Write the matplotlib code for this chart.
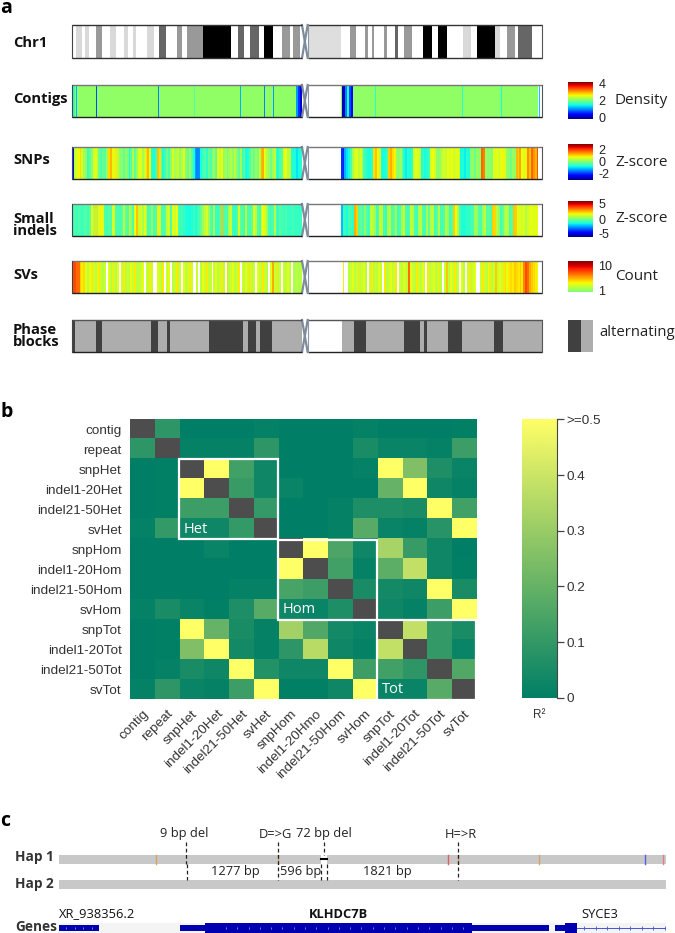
import matplotlib
matplotlib.use('Agg')
import matplotlib.pyplot as plt
from matplotlib.colors import LinearSegmentedColormap
import numpy as np

W, H = 675, 933
nan = np.nan

# chromosome arms in Mb
left_end, right_start, chrom_end = 122.0, 125.0, 249.3
right_bins_from, right_bins_to = 142.5, 247.4

# ideogram bands: start, end, grey
band_start = [2.1, 6.9, 12.6, 20.2, 27.6, 32.5, 39.8, 46.3, 55.7, 60.8, 69.3, 88.1, 94.4, 102.0, 111.4, 117.4,
              125.0, 147.6, 155.2, 159.3, 165.7, 171.3, 176.3, 186.0, 194.1, 207.4, 214.8, 224.4, 230.7, 236.8]
band_end = [5.1, 9.0, 15.7, 23.3, 29.7, 34.1, 43.7, 50.0, 58.4, 69.3, 84.4, 91.4, 99.2, 106.8, 115.6, 121.0,
            142.6, 150.8, 156.8, 160.4, 167.3, 173.1, 180.5, 191.0, 198.9, 211.6, 224.4, 227.0, 234.9, 243.8]
band_grey = ['#d9d9d9', '#d9d9d9', '#999999', '#d9d9d9', '#d9d9d9', '#d9d9d9', '#d9d9d9', '#666666', '#999999',
             '#999999', '#000000', '#666666', '#666666', '#000000', '#999999', '#999999',
             '#dedede', '#999999', '#999999', '#999999', '#999999', '#666666', '#999999', '#000000', '#000000',
             '#d9d9d9', '#000000', '#d9d9d9', '#999999', '#666666']

# contig density: flat background plus narrow dips
contig_base = 2.1
contig_pos = [0.3, 1.2, 2.5, 13.0, 16.5, 46.0, 65.0, 70.0, 89.5, 102.0, 107.0, 119.5, 120.5, 121.5,
              143.5, 144.5, 145.5, 146.5, 147.5, 148.5, 161.0, 207.0, 228.0, 248.0]
contig_val = [0.1, 1.6, 1.2, 0.8, 1.6, 1.0, 1.8, 1.8, 1.2, 1.0, 1.1, 1.1, 0.7, 0.3,
              0.2, 0.2, 1.0, 1.6, 0.8, 0.5, 1.6, 1.6, 1.5, 1.3]
contig_w = [0.8, 1.0, 0.8, 0.5, 0.4, 0.4, 0.4, 0.4, 0.4, 0.4, 0.4, 1.0, 1.0, 1.0,
            1.0, 1.0, 1.0, 1.0, 1.0, 1.0, 0.4, 0.4, 0.4, 1.0]

snp_left = [-3.0, 0.6, 0.9, 1.2, 1.4, 0.8, 0.4, 0.2, -0.6, -0.3, 0.1, 0.9, 1.0, 0.5, -0.1, -0.5, -0.2, -0.3, 0.3, 1.4,
            1.7, 1.2, 0.9, 1.3, 0.6, 0.2, 0.1, -0.2, 0.2, 0.0, -0.9, -0.4, 0.5, -0.3, 0.3, 0.9, 1.0, 0.4, 0.8, 1.4,
            1.7, 1.0, -0.8, -1.0, -0.6, 1.6, 1.4, -0.3, -0.9, -0.6, -0.1, -0.5, 0.2, 0.9, 0.4, 0.6, 0.8, 0.2, 0.5, 1.0,
            0.1, -0.2, 0.3, -0.4, -1.0, -1.7, -2.0, -1.9, -1.0, -0.6, -0.4, -0.8, -0.2, -0.5, 0.0, 0.3, -0.3, 1.0, 0.7, 1.1,
            0.2, 0.4, -0.1, 0.3, 0.5, 0.2, 0.6, 0.1, -0.3, 0.4, -0.6, -0.2, -1.0, -0.9, -0.5, 0.1, -0.2, 0.3, 0.0, 0.6,
            1.7, 1.8, 1.0, 0.5, 0.3, -0.1, 0.4, 0.7, -0.7, -0.9, -0.5, -0.3, 0.9, 1.1, 0.5, 0.7, -0.8, -1.0, -0.9, -1.2,
            -1.0, -0.8]
snp_right = [-2.6, -2.8, -1.6, -1.2, -1.0, -0.5, 0.4, 0.9, 1.0, 0.6, 0.9, 0.3, -0.5, -0.7, -0.9, -1.0, -0.7, 1.4, 1.6, 1.2,
             0.7, -0.8, -1.0, -0.9, -0.6, 1.5, 1.8, 1.4, 1.2, 0.2, 0.1, 0.3, -0.2, -0.9, -1.1, -0.8, -1.0, -0.7, 0.8, 1.0,
             0.9, 0.7, -0.9, -0.7, -1.0, -0.8, -0.6, 0.9, 1.1, 0.8, 0.2, 0.1, 0.3, 0.6, 0.9, 0.7, 1.0, 0.9, 1.1, 0.8,
             0.9, 1.0, 0.8, -1.0, -0.9, -1.1, -0.8, -0.9, 0.1, 0.2, -0.2, 0.3, 0.1, 0.2, 2.4, 2.2, 0.3, 0.1, 0.2, 0.0,
             1.0, 0.9, 1.1, 0.8, 1.0, 1.2, 0.9, 0.2, 0.1, -0.1, 0.3, 0.2, 1.7, 1.5, 1.9, 1.1, 0.9, 1.2, 2.1, 1.6,
             2.4, 2.0, 1.7, 2.6]

indel_left = [-1.3, -1.0, -1.2, -0.9, -1.1, -1.3, -1.0, -0.8, -1.2, -0.6, 2.0, 0.8, 2.8, 0.6, 1.8, 2.4, 1.9, -0.9, -1.1, -0.7,
              -1.0, 1.6, 1.9, -1.0, -0.9, -1.2, -0.8, 1.2, -0.5, -1.0, 1.5, 0.4, -1.0, 2.2, 3.2, 1.4, 1.7, 0.9, 2.0, 1.1,
              -1.2, -0.8, 0.4, -1.0, -0.9, 2.6, 1.5, -0.9, -1.1, -0.8, 1.3, 1.7, -1.0, 2.0, 1.6, 2.1, -0.9, -1.3, -1.1, -1.5,
              -1.8, -1.9, -2.0, -1.7, -1.2, -1.9, -1.6, -1.0, -0.4, 0.6, 1.3, 1.8, 0.5, -0.9, -1.2, 1.0, -1.3, -1.5, -0.9, 3.2,
              -1.0, -0.8, -1.2, 0.9, 1.6, -1.2, -1.4, -0.9, 1.8, -0.7, -1.0, -1.3, 1.4, -0.9, -1.1, -0.6, 2.0, 1.2, -0.8, -1.2,
              1.6, 2.3, 1.8, 0.7, -1.0, -1.2, -0.9, 1.1, -1.2, -1.4, -0.7, -1.1, -1.3, -1.0, -1.4, -1.5, -1.2, -1.0, -1.4, -1.3,
              -1.5, -1.2]
indel_right = [-3.0, -1.4, -1.1, -2.0, -1.0, -1.2, -1.6, 3.6, 3.0, -0.8, -0.6, -1.0, 0.4, -0.9, -1.2, 1.4, 1.2, 0.5, -1.3, -1.0,
               1.6, 1.2, -1.1, -1.3, 0.9, 1.3, -1.0, -0.6, 0.8, -1.2, -1.1, 0.7, 1.5, -1.0, -1.2, -0.8, 1.4, 1.0, -1.0, -1.2,
               0.9, 1.3, -0.9, -1.1, 0.9, -0.6, 1.0, 1.3, -1.1, -0.7, 1.0, -1.0, -1.1, -0.8, 1.1, 0.6, -1.2, -0.9, 3.0, 2.2,
               1.0, -1.1, -1.7, -1.9, -1.6, -1.4, -1.5, -1.0, -1.1, 0.8, 0.5, -0.8, -1.0, 0.6, 1.3, -0.7, -0.6, -1.0, 3.0, 2.9,
               1.0, 0.5, -1.1, -0.5, 0.6, 1.2, 1.0, -1.0, -0.8, 3.2, 3.0, 1.9, 1.8, 1.7, 1.9, 1.0, 1.5, 2.0, 2.1, 1.8,
               2.1, 2.0]

sv_left = [10, 10, 9, 9, 6, 5, 5.5, 4, 2.5, 4, 5, 3, 2.5, 4, 5, 3, 2.5, 3, nan, 4,
           2.5, 5, 3, 2.5, 4, nan, 3, 5, 2.5, 3, 2.5, 4, 3, 5, 2.5, 2.5, 3, 4, nan, 3,
           2.5, 5, 3, nan, nan, 4, 3, 2.5, 5, nan, 3, 4, nan, 2.5, 3, 5, 2.5, 3, nan, 4,
           2.5, 3, 5, 3, nan, nan, 3, nan, 2.5, 4, 3, 5, 2.5, 3, nan, 3, 4, 2.5, 3, 5,
           2.5, nan, 5.5, 2.5, 3, 4, 2.5, 3, 5, nan, 3, 2.5, 4, 3, 5, 2.5, 3, nan, 4, 3,
           2.5, 5, 3, 2.5, nan, 4, 7, 3, 5, 2.5, 3, nan, 3, 2.5, 4, 2.5, nan, 2.5, 2, 2.5,
           2, 2.5]
sv_right = [nan, 5, nan, nan, 2.5, 3, 4, 2.5, 3, 5, 2.5, 3, 4, 2.5, nan, 3, 5, 2.5, 3, 2.5,
            4, 3, nan, 5, 2.5, 3, 4, 2.5, 3, 5, nan, 3, 2.5, 4, 3, 2.5, 9, 4, 3, 2.5,
            5, 3, 2.5, 4, 3, nan, 5, 2.5, 3, 4, 2.5, 3, 5, 2.5, nan, 3, 6, 2.5, 4, 3,
            5, 2.5, 3, nan, 4, 2.5, nan, 3, 5, 2.5, 3, 4, nan, nan, 3, 5, 3, 2.5, 4, 5,
            2.5, 3, 6, 3, 4, 3, 5, 5.5, 4, 5, 5.5, 5, 6, 5.5, 5, 6, 5, 8, 10, 9,
            7, 6, 5.5, 5, 4]

# phase blocks, dark ones on a light background
phase_start = [0.0, 12.7, 42.1, 50.4, 72.7, 93.4, 99.7, 149.6, 176.1, 186.7, 199.3, 223.8]
phase_end = [1.6, 15.9, 45.6, 51.8, 90.7, 97.6, 106.1, 155.9, 184.4, 188.3, 206.7, 228.8]
phase_light_from = 143.4

# panel b
labels_y = ['contig', 'repeat', 'snpHet', 'indel1-20Het', 'indel21-50Het', 'svHet', 'snpHom', 'indel1-20Hom',
            'indel21-50Hom', 'svHom', 'snpTot', 'indel1-20Tot', 'indel21-50Tot', 'svTot']
labels_x = ['contig', 'repeat', 'snpHet', 'indel1-20Het', 'indel21-50Het', 'svHet', 'snpHom', 'indel1-20Hmo',
            'indel21-50Hom', 'svHom', 'snpTot', 'indel1-20Tot', 'indel21-50Tot', 'svTot']
r2 = [
    [nan, .09, 0, 0, 0, .01, 0, 0, 0, .01, 0, 0, 0, .005],
    [.09, nan, .01, .01, .01, .09, 0, 0, 0, .05, .02, .02, .01, .12],
    [0, .005, nan, .5, .13, .03, 0, 0, 0, .01, .5, .25, .06, .02],
    [0, .005, .5, nan, .11, .03, .02, 0, 0, 0, .2, .5, .03, .01],
    [0, .005, .12, .12, nan, .1, 0, 0, .01, .06, .06, .05, .5, .13],
    [.01, .10, .03, .03, .10, nan, 0, 0, .01, .17, .02, .01, .08, .5],
    [0, 0, 0, .02, 0, 0, nan, .5, .15, .03, .33, .11, .03, 0],
    [0, 0, 0, 0, 0, 0, .5, nan, .13, .01, .18, .38, .03, .005],
    [0, 0, 0, 0, .01, .01, .14, .12, nan, .05, .04, .03, .5, .05],
    [.01, .05, .02, .005, .06, .17, .03, .02, .06, nan, .03, .01, .12, .5],
    [0, .005, .5, .2, .05, .01, .32, .16, .04, .02, nan, .38, .1, .05],
    [0, .005, .25, .5, .04, .01, .09, .36, .03, .01, .38, nan, .1, .02],
    [0, .01, .05, .03, .5, .07, .03, .03, .5, .12, .13, .09, nan, .16],
    [.01, .09, .02, .01, .12, .5, .005, .005, .03, .5, .02, .02, .17, nan],
]
group_names = ['Het', 'Hom', 'Tot']
group_first = [2, 6, 10]
cbar_ticks = [0, 0.1, 0.2, 0.3, 0.4, 0.5]
cbar_labels = ['0', '0.1', '0.2', '0.3', '0.4', '>=0.5']

# panel c, positions in bp
hap_len = 8437
hap1_marks = [1348, 3040, 5411, 5540, 6670, 8150, 8390]
hap1_colors = ['#d9a066', '#d9a066', '#e06060', '#d9a066', '#d9a066', '#5060e0', '#e08080']
del_start, del_end = 3640, 3725
kb_text = ['1277 bp', '596 bp', '1821 bp']
kb_pos = [2445, 3360, 4570]
var_text = ['9 bp del', 'D=>G', '72 bp del', 'H=>R']
var_pos = [1770, 3040, 3680, 5540]


def px_axes(x0, y0, x1, y1):
    return fig.add_axes([x0 / W, 1 - y1 / H, (x1 - x0) / W, (y1 - y0) / H])


def frame(ax, top='#777777', bottom='#222222'):
    # centromere
    ax.plot([left_end, right_start], [1, 0], color='#7d8b9c', lw=1.6, clip_on=False)
    ax.plot([left_end, right_start], [0, 1], color='#7d8b9c', lw=1.6, clip_on=False)
    for a, b in [(0, left_end), (right_start, chrom_end)]:
        ax.plot([a, b], [1, 1], color=top, lw=1, clip_on=False, solid_capstyle='butt', zorder=5)
        ax.plot([a, b], [0, 0], color=bottom, lw=1, clip_on=False, solid_capstyle='butt', zorder=5)
    ax.plot([0, 0], [0, 1], color='#444444', lw=0.8, clip_on=False, zorder=5)
    ax.plot([chrom_end, chrom_end], [0, 1], color='#555555', lw=0.8, clip_on=False, zorder=5)
    ax.plot([right_start, right_start], [0, 1], color='#8a96a5', lw=0.8, clip_on=False, zorder=5)


def track(ax, left, right, cmap, vmin, vmax):
    lx = np.linspace(0, left_end, len(left) + 1)
    rx = np.linspace(right_bins_from, right_bins_to, len(right) + 1)
    for x, v in [(lx, left), (rx, right)]:
        ax.pcolormesh(x, [0, 1], np.array([v]), cmap=cmap, vmin=vmin, vmax=vmax)


def strip_axes(y0, y1):
    ax = px_axes(72, y0, 542, y1)
    ax.set_xlim(0, chrom_end)
    ax.set_ylim(0, 1)
    ax.axis('off')
    return ax


def legend_bar(y0, y1, cmap, vmin, vmax, ticks, name):
    ax = px_axes(568, y0, 593, y1)
    grad = np.linspace(vmin, vmax, 128).reshape(-1, 1)
    ax.imshow(grad, aspect='auto', origin='lower', cmap=cmap, vmin=vmin, vmax=vmax, extent=[0, 1, vmin, vmax])
    ax.set_xticks([])
    ax.yaxis.tick_right()
    ax.set_yticks(ticks)
    ax.set_yticklabels([str(t) for t in ticks], fontsize=9, color='#222222', family='Liberation Sans')
    ax.tick_params(axis='y', length=0, pad=4)
    for s in ax.spines.values():
        s.set_visible(False)
    fig.text(615 / W, 1 - (y0 + y1) / 2 / H, name, fontsize=11, va='center', ha='left', color='#222222')


plt.rcParams['font.family'] = ['Open Sans', 'DejaVu Sans']
fig = plt.figure(figsize=(W / 100, H / 100), dpi=100)

jet = plt.get_cmap('jet').copy()
jet.set_bad('white')
count_cmap = LinearSegmentedColormap.from_list('count', jet(np.linspace(0.5, 1, 128)))
count_cmap.set_bad('white')

# panel a
ax = strip_axes(25, 58)
ax.barh(0.5, np.array(band_end) - np.array(band_start), left=band_start, height=1, color=band_grey)
frame(ax, top='#333333', bottom='#333333')

ax = strip_axes(85, 117)
ax.barh(0.5, [left_end, right_bins_to - right_bins_from], left=[0, right_bins_from], height=1,
        color=jet(contig_base / 4))
ax.bar(contig_pos, 1, width=contig_w, bottom=0, color=jet(np.array(contig_val) / 4))
frame(ax)

ax = strip_axes(147, 179)
track(ax, snp_left, snp_right, jet, -4, 4)
frame(ax)

ax = strip_axes(204, 236)
track(ax, indel_left, indel_right, jet, -8, 8)
frame(ax)

ax = strip_axes(261, 293)
track(ax, sv_left, sv_right, count_cmap, 0.3, 15)
frame(ax)

ax = strip_axes(320, 352)
ax.barh(0.5, [left_end, chrom_end - phase_light_from], left=[0, phase_light_from], height=1, color='#adadad')
ax.barh(0.5, np.array(phase_end) - np.array(phase_start), left=phase_start, height=1, color='#404040')
frame(ax, top='#555555')

legend_bar(82, 119, jet, -0.2, 4.2, [0, 2, 4], 'Density')
legend_bar(144, 180, jet, -3, 3, [-2, 0, 2], 'Z-score')
legend_bar(201, 237, jet, -6, 6, [-5, 0, 5], 'Z-score')
legend_bar(261, 292, count_cmap, 0.3, 11.5, [1, 10], 'Count')

ax = px_axes(568, 320, 593, 352)
ax.barh(0.5, [0.5, 0.5], left=[0, 0.5], height=1, color=['#404040', '#adadad'])
ax.set_xlim(0, 1)
ax.set_ylim(0, 1)
ax.axis('off')
fig.text(599 / W, 1 - 333 / H, 'alternating', fontsize=10.7, va='center', color='#222222')

track_names = ['Chr1', 'Contigs', 'SNPs', 'Small\nindels', 'SVs', 'Phase\nblocks']
track_y = [43, 99, 160, 225, 275, 336]
for name, y in zip(track_names, track_y):
    fig.text(13 / W, 1 - y / H, name, fontsize=10.6, fontweight='bold', va='center', ha='left',
             linespacing=0.85, color='#111111')

# panel b
ax = px_axes(130, 419.5, 476.3, 699.5)
summer = plt.get_cmap('summer').copy()
summer.set_bad('#4d4d4d')
ax.imshow(np.array(r2, dtype=float), cmap=summer, vmin=0, vmax=0.5, aspect='auto', interpolation='nearest')
ax.set_xticks(range(14))
ax.set_yticks(range(14))
ax.set_xticklabels(labels_x, rotation=45, ha='right', rotation_mode='anchor', fontsize=9.7,
                   family='Liberation Sans', color='#333333')
ax.set_yticklabels(labels_y, fontsize=9.7, family='Liberation Sans', color='#333333')
ax.tick_params(length=0, pad=6)
for s in ax.spines.values():
    s.set_visible(False)
for name, i in zip(group_names, group_first):
    ax.add_patch(plt.Rectangle((i - 0.5, i - 0.5), 4, 4, fill=False, ec='white', lw=1.6, clip_on=False))
    ax.text(i - 0.32, i + 3, name, color='white', fontsize=10.5, va='center', ha='left')

cax = px_axes(522, 419.5, 556.5, 697.7)
grad = np.linspace(0, 0.5, 256).reshape(-1, 1)
cax.imshow(grad, aspect='auto', origin='lower', cmap='summer', extent=[0, 1, 0, 0.5])
cax.set_xticks([])
cax.yaxis.tick_right()
cax.set_yticks(cbar_ticks)
cax.set_yticklabels(cbar_labels, fontsize=9.7, family='Liberation Sans', color='#333333')
cax.tick_params(axis='y', length=5, width=0.9, color='#444444', pad=2)
for side in ['top', 'left', 'bottom']:
    cax.spines[side].set_visible(False)
cax.spines['right'].set_color('#444444')
cax.set_xlabel('R\u00b2', fontsize=8.5, family='Liberation Sans', color='#333333', labelpad=8)

# panel c
ax = px_axes(59, 820, 666, 933)
ax.set_xlim(0, hap_len)
ax.set_ylim(933, 820)
ax.axis('off')
ax.barh(859.5, hap_len, height=9, color='#c8c8c8')
ax.barh(884.3, hap_len, height=8.5, color='#c8c8c8')
for m, c in zip(hap1_marks, hap1_colors):
    ax.plot([m, m], [855, 864], color=c, lw=1)
ax.barh(859.5, del_end - del_start, left=del_start, height=9, color='white')
ax.plot([del_start, del_end], [859.3, 859.3], color='black', lw=1.5)

dash = dict(color='#222222', lw=0.9, ls=(0, (3, 2)))
ax.plot([var_pos[0] - 10, var_pos[0] - 10], [842, 864], **dash)
ax.plot([var_pos[0] + 10, var_pos[0] + 10], [864, 880], **dash)
ax.plot([var_pos[1], var_pos[1]], [842, 880], **dash)
ax.plot([var_pos[2], var_pos[2]], [842, 855], **dash)
ax.plot([del_start, del_start], [864, 880], **dash)
ax.plot([del_end, del_end], [864, 880], **dash)
ax.plot([var_pos[3], var_pos[3]], [842, 880], **dash)
for t, x in zip(var_text, [1740, 3010, 3680, 5590]):
    ax.text(x, 834, t, fontsize=9.3, ha='center', va='center', color='#222222')
for t, x in zip(kb_text, kb_pos):
    ax.text(x, 872, t, fontsize=9.3, ha='center', va='center', color='#222222')

gene_blue = '#0000b0'
ax.barh(928, 7500, height=10, left=0, color='#f4f4f4')
ax.barh(928, 1650, height=10, left=6790, color='#f4f4f4')
ax.barh(928, 555, left=0, height=6, color=gene_blue)
ax.barh(928, 350, left=1685, height=6, color=gene_blue)
ax.barh(928, 3700, left=2035, height=11, color=gene_blue)
ax.barh(928, 1070, left=5735, height=6, color=gene_blue)
ax.barh(928, 140, left=6900, height=6, color=gene_blue)
ax.barh(928, 155, left=7040, height=11, color=gene_blue)
ax.plot([7195, hap_len], [928, 928], color='#4455dd', lw=0.7)
syce_ticks = np.arange(7300, hap_len, 160)
ax.plot(syce_ticks, np.full(len(syce_ticks), 928), '|', color='#4455dd', ms=3, mew=0.6)
xr_marks = np.arange(100, 550, 120)
ax.plot(xr_marks, np.full(len(xr_marks), 928), '|', color='#8899ee', ms=2, mew=0.6)
klh_marks = np.arange(2320, 5700, 157)
ax.plot(klh_marks, np.full(len(klh_marks), 928), '|', color='#8899ee', ms=2, mew=0.6)
ax.text(0, 914, 'XR_938356.2', fontsize=9.3, ha='left', va='center', color='#111111')
ax.text(3880, 914, 'KLHDC7B', fontsize=9.3, fontweight='bold', ha='center', va='center', color='#111111')
ax.text(7520, 914, 'SYCE3', fontsize=9.3, ha='center', va='center', color='#111111')

for name, y in zip(['Hap 1', 'Hap 2', 'Genes'], [857, 884, 927]):
    fig.text(15 / W, 1 - y / H, name, fontsize=9.8, fontweight='bold', va='center', ha='left', color='#333333')

for name, y in zip(['a', 'b', 'c'], [8, 412, 821.5]):
    fig.text(0, 1 - y / H, name, fontsize=14, fontweight='bold', va='center', ha='left', color='black')

fig.savefig('out.png', dpi=100)
